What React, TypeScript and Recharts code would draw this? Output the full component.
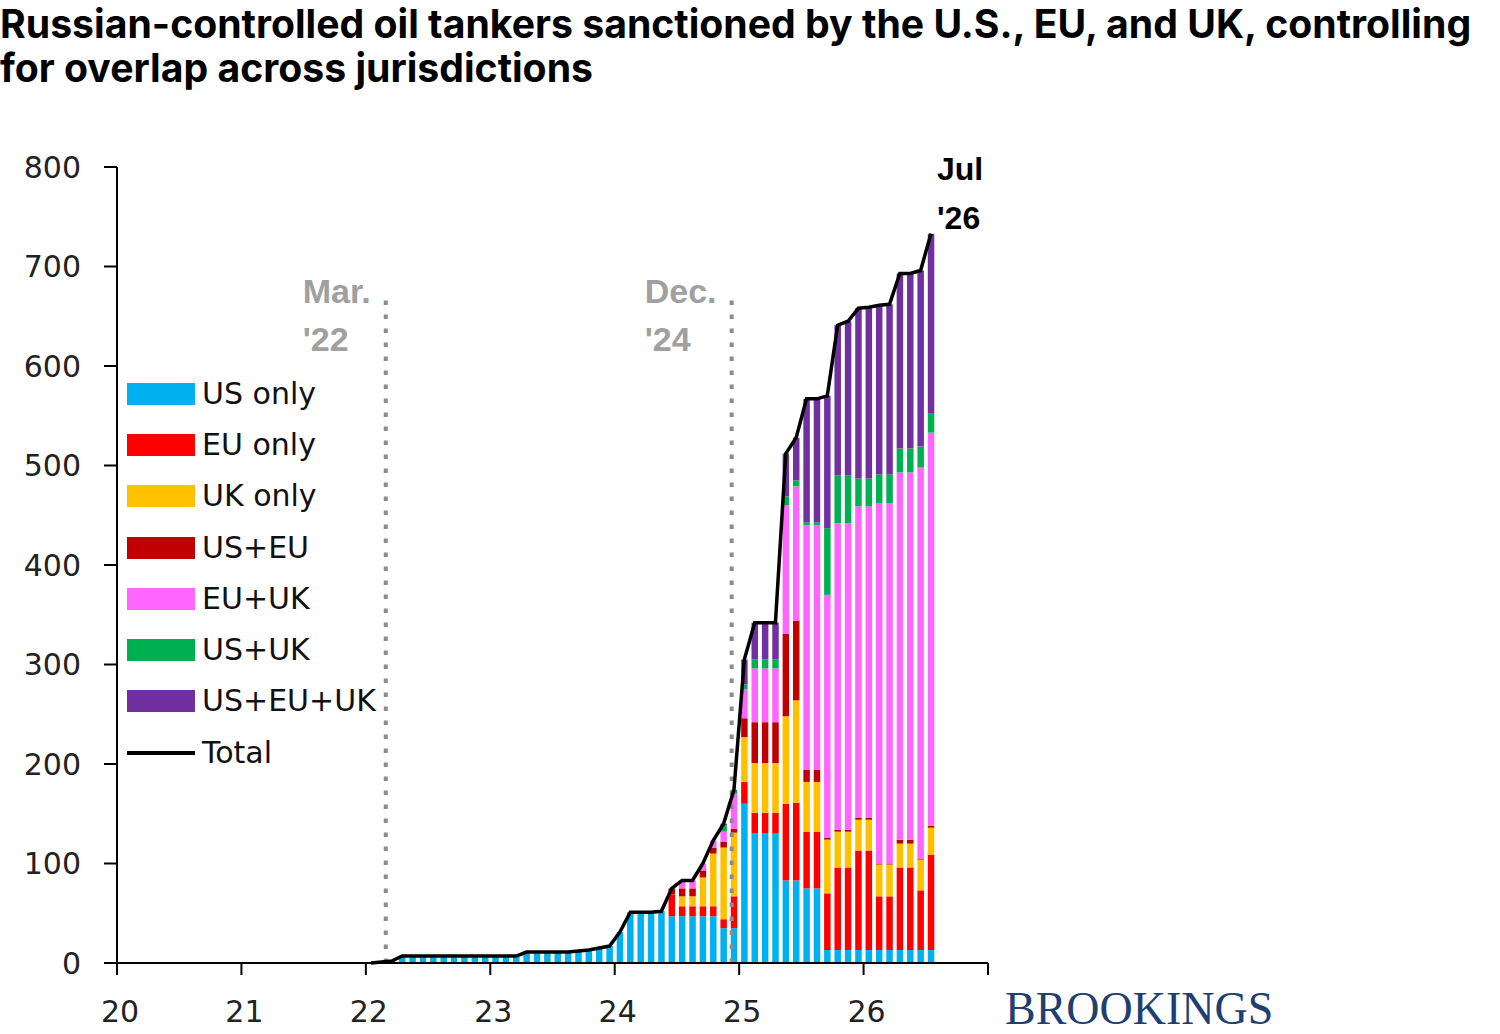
import React from 'react';
import {
  ComposedChart,
  Bar,
  Line,
  XAxis,
  YAxis,
  ReferenceLine,
  ReferenceDot,
  Legend,
} from 'recharts';

// ---------- data ----------
const months = [
  '2022-01', '2022-02', '2022-03', '2022-04', '2022-05', '2022-06', '2022-07', '2022-08', '2022-09', '2022-10', '2022-11', '2022-12',
  '2023-01', '2023-02', '2023-03', '2023-04', '2023-05', '2023-06', '2023-07', '2023-08', '2023-09', '2023-10', '2023-11', '2023-12',
  '2024-01', '2024-02', '2024-03', '2024-04', '2024-05', '2024-06', '2024-07', '2024-08', '2024-09', '2024-10', '2024-11', '2024-12',
  '2025-01', '2025-02', '2025-03', '2025-04', '2025-05', '2025-06', '2025-07', '2025-08', '2025-09', '2025-10', '2025-11', '2025-12',
  '2026-01', '2026-02', '2026-03', '2026-04', '2026-05', '2026-06', '2026-07',
];

const usOnly = [
  0, 1, 2, 7, 7, 7, 7, 7, 7, 7, 7, 7,
  7, 7, 7, 11, 11, 11, 11, 11, 12, 13, 15, 17,
  31, 51, 51, 51, 52, 47, 47, 47, 47, 47, 35, 35,
  160, 130, 130, 130, 83, 83, 75, 75, 13, 13, 13, 13,
  13, 13, 13, 13, 13, 13, 13,
];
const euOnly = [
  0, 0, 0, 0, 0, 0, 0, 0, 0, 0, 0, 0,
  0, 0, 0, 0, 0, 0, 0, 0, 0, 0, 0, 0,
  0, 0, 0, 0, 0, 22, 10, 10, 10, 10, 9, 32,
  22, 21, 21, 21, 77, 78, 57, 57, 57, 83, 83, 100,
  100, 54, 54, 83, 83, 60, 96,
];
const ukOnly = [
  0, 0, 0, 0, 0, 0, 0, 0, 0, 0, 0, 0,
  0, 0, 0, 0, 0, 0, 0, 0, 0, 0, 0, 0,
  0, 0, 0, 0, 0, 0, 10, 10, 29, 53, 72, 64,
  45, 50, 50, 50, 88, 103, 50, 50, 54, 36, 36, 31,
  31, 32, 32, 24, 24, 31, 27,
];
const usEu = [
  0, 0, 0, 0, 0, 0, 0, 0, 0, 0, 0, 0,
  0, 0, 0, 0, 0, 0, 0, 0, 0, 0, 0, 0,
  0, 0, 0, 0, 0, 6, 8, 8, 7, 6, 6, 4,
  19, 41, 41, 41, 83, 80, 12, 12, 2, 2, 2, 2,
  2, 1, 1, 4, 4, 1, 2,
];
const euUk = [
  0, 0, 0, 0, 0, 0, 0, 0, 0, 0, 0, 0,
  0, 0, 0, 0, 0, 0, 0, 0, 0, 0, 0, 0,
  0, 0, 0, 0, 0, 0, 8, 8, 7, 7, 10, 35,
  29, 54, 54, 54, 129, 135, 246, 246, 244, 308, 308, 313,
  313, 362, 362, 369, 369, 393, 395,
];
const usUk = [
  0, 0, 0, 0, 0, 0, 0, 0, 0, 0, 0, 0,
  0, 0, 0, 0, 0, 0, 0, 0, 0, 0, 0, 0,
  0, 0, 0, 0, 0, 0, 0, 0, 0, 0, 6, 3,
  5, 9, 9, 9, 9, 6, 3, 3, 67, 48, 48, 28,
  28, 29, 29, 24, 24, 21, 19,
];
const usEuUk = [
  0, 0, 0, 0, 0, 0, 0, 0, 0, 0, 0, 0,
  0, 0, 0, 0, 0, 0, 0, 0, 0, 0, 0, 0,
  0, 0, 0, 0, 0, 0, 0, 0, 0, 0, 2, 1,
  25, 37, 37, 37, 43, 43, 124, 124, 133, 151, 155, 171,
  172, 170, 171, 176, 176, 177, 181,
];
const total = [
  0, 1, 2, 7, 7, 7, 7, 7, 7, 7, 7, 7,
  7, 7, 7, 11, 11, 11, 11, 11, 12, 13, 15, 17,
  31, 51, 51, 51, 52, 75, 83, 83, 100, 123, 140, 174,
  305, 342, 342, 342, 512, 528, 567, 567, 570, 641, 645, 658,
  659, 661, 662, 693, 693, 696, 733,
];

const xTicks = [2020, 2021, 2022, 2023, 2024, 2025, 2026, 2027];
const yTicks = [0, 100, 200, 300, 400, 500, 600, 700, 800];

const titleLines = [
  'Russian-controlled oil tankers sanctioned by the U.S., EU, and UK, controlling',
  'for overlap across jurisdictions',
];

const eventMarkers = [
  { x: 2022.16, lines: ['Mar.', "'22"], dx: -83 },
  { x: 2024.94, lines: ['Dec.', "'24"], dx: -87 },
];
const markerTop = 670;

const series = [
  { key: 'usOnly', label: 'US only', color: '#00B0F0', values: usOnly },
  { key: 'euOnly', label: 'EU only', color: '#FF0000', values: euOnly },
  { key: 'ukOnly', label: 'UK only', color: '#FFC000', values: ukOnly },
  { key: 'usEu', label: 'US+EU', color: '#C00000', values: usEu },
  { key: 'euUk', label: 'EU+UK', color: '#FF66FF', values: euUk },
  { key: 'usUk', label: 'US+UK', color: '#00B050', values: usUk },
  { key: 'usEuUk', label: 'US+EU+UK', color: '#7030A0', values: usEuUk },
];

const data = months.map((m, i) => {
  const [y, mo] = m.split('-').map(Number);
  const row: any = { month: m, x: y + (mo - 0.5) / 12, total: total[i] };
  series.forEach((s) => {
    row[s.key] = s.values[i];
  });
  return row;
});
const last = data[data.length - 1];

// ---------- components ----------
const LegendContent = () => (
  <div style={{ fontFamily: '"DejaVu Sans", sans-serif', fontSize: 30, color: '#111' }}>
    {series.map((s) => (
      <div key={s.key} style={{ display: 'flex', alignItems: 'center', height: 51.3 }}>
        <div style={{ width: 68, height: 22, background: s.color, marginRight: 7 }} />
        <span style={{ lineHeight: '30px', whiteSpace: 'nowrap' }}>{s.label}</span>
      </div>
    ))}
    <div style={{ display: 'flex', alignItems: 'center', height: 51.3 }}>
      <div style={{ width: 68, height: 4, background: '#000', marginRight: 7 }} />
      <span style={{ lineHeight: '30px' }}>Total</span>
    </div>
  </div>
);

const makeMarkerLabel = (lines: string[], dx: number) => (props: any) => {
  const vb = props.viewBox || {};
  const x = (vb.x ?? 0) + (vb.width ? vb.width / 2 : 0);
  const y = vb.y ?? 0;
  return (
    <text
      fontFamily='"Liberation Sans", Arial, sans-serif'
      fontWeight={700}
      fontSize={34}
      fill="#A0A0A0"
    >
      <tspan x={x + dx} y={y + 7}>{lines[0]}</tspan>
      <tspan x={x + dx} y={y + 55}>{lines[1]}</tspan>
    </text>
  );
};

const EndLabel = (props: any) => {
  const vb = props.viewBox || {};
  const x = (vb.x ?? 0) + (vb.width ? vb.width / 2 : 0);
  const y = (vb.y ?? 0) + (vb.height ? vb.height / 2 : 0);
  return (
    <text
      fontFamily='"Liberation Sans", Arial, sans-serif'
      fontWeight={700}
      fontSize={32}
      fill="#000"
    >
      <tspan x={x + 6} y={y - 54}>Jul</tspan>
      <tspan x={x + 6} y={y - 5}>'26</tspan>
    </text>
  );
};

export default function App() {
  return (
    <div
      style={{
        position: 'absolute',
        left: 0,
        top: 0,
        width: 1500,
        height: 1034,
        background: '#fff',
        overflow: 'hidden',
      }}
    >
      {titleLines.map((t, i) => (
        <div
          key={i}
          style={{
            position: 'absolute',
            left: 0,
            top: i === 0 ? 4 : 48,
            fontFamily: 'Inter, "Noto Sans", sans-serif',
            fontWeight: 700,
            fontSize: 39.2,
            lineHeight: '40px',
            color: '#000',
            whiteSpace: 'nowrap',
          }}
        >
          {t}
        </div>
      ))}

      <div style={{ position: 'absolute', left: 0, top: 0 }}>
        <ComposedChart
          width={1500}
          height={1034}
          data={data}
          margin={{ top: 167, right: 512, bottom: 21, left: 57 }}
        >
          <XAxis
            dataKey="x"
            type="number"
            domain={[2020, 2027]}
            ticks={xTicks}
            allowDataOverflow
            tickFormatter={(v: number) => (v === 2027 ? '' : String(v - 2000))}
            height={50}
            tickSize={12}
            tickMargin={26}
            axisLine={{ stroke: '#000', strokeWidth: 2 }}
            tickLine={{ stroke: '#000', strokeWidth: 2 }}
            tick={{ fontFamily: '"DejaVu Sans", sans-serif', fontSize: 30, fill: '#222', dx: 3 }}
          />
          <YAxis
            type="number"
            domain={[0, 800]}
            ticks={yTicks}
            width={60}
            tickSize={13}
            tickMargin={23}
            axisLine={{ stroke: '#000', strokeWidth: 2 }}
            tickLine={{ stroke: '#000', strokeWidth: 2 }}
            tick={{ fontFamily: '"DejaVu Sans", sans-serif', fontSize: 30, fill: '#222' }}
          />
          <Legend
            layout="vertical"
            align="center"
            verticalAlign="middle"
            content={<LegendContent />}
            wrapperStyle={{ position: 'absolute', left: 127, top: 368, width: 320, height: 420, margin: 0 }}
          />
          {series.map((s) => (
            <Bar
              key={s.key}
              dataKey={s.key}
              name={s.label}
              stackId="a"
              fill={s.color}
              barSize={6.5}
              isAnimationActive={false}
            />
          ))}
          {eventMarkers.map((m) => (
            <ReferenceLine
              key={m.x}
              segment={[
                { x: m.x, y: 0 },
                { x: m.x, y: markerTop },
              ]}
              stroke="#8C8C8C"
              strokeWidth={4}
              strokeDasharray="4.5 9.5"
              label={makeMarkerLabel(m.lines, m.dx)}
            />
          ))}
          <Line
            dataKey="total"
            name="Total"
            type="linear"
            stroke="#000"
            strokeWidth={3.5}
            dot={false}
            activeDot={false}
            isAnimationActive={false}
          />
          <ReferenceDot
            x={last.x}
            y={last.total}
            r={0}
            fill="#000"
            stroke="none"
            label={EndLabel}
          />
        </ComposedChart>
      </div>

      <div
        style={{
          position: 'absolute',
          left: 1005,
          top: 989,
          fontFamily: '"Liberation Serif", "DejaVu Serif", serif',
          fontSize: 46,
          lineHeight: '40px',
          color: '#1F3E72',
          whiteSpace: 'nowrap',
        }}
      >
        BROOKINGS
      </div>
    </div>
  );
}
